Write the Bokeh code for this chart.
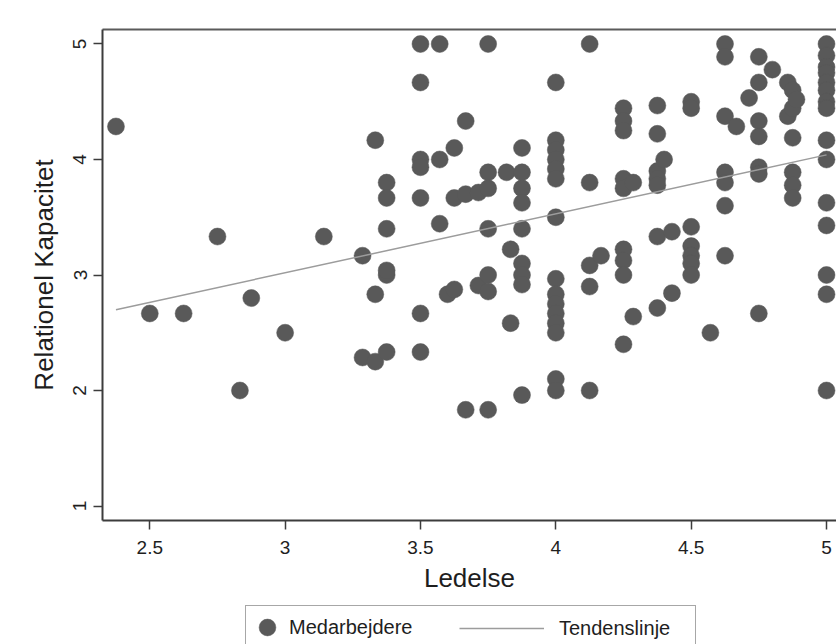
from bokeh.plotting import figure
from bokeh.layouts import column
from bokeh.models import Range1d, FixedTicker, LinearAxis, Legend, LegendItem, ColumnDataSource
from bokeh.embed import file_html
from bokeh.resources import INLINE

# ---------------- data ----------------
ledelse = [
    2.375, 2.5, 2.625, 2.75, 2.833, 2.875, 3.0, 3.143,
    3.286, 3.286,
    3.333, 3.333, 3.333,
    3.375, 3.375, 3.375, 3.375, 3.375, 3.375,
    3.5, 3.5, 3.5, 3.5, 3.5, 3.5, 3.5,
    3.571, 3.571, 3.571,
    3.6,
    3.625, 3.625, 3.625,
    3.667, 3.667, 3.667,
    3.714, 3.714,
    3.75, 3.75, 3.75, 3.75, 3.75, 3.75, 3.75,
    3.818,
    3.833, 3.833,
    3.875, 3.875, 3.875, 3.875, 3.875, 3.875, 3.875, 3.875, 3.875,
    4.0, 4.0, 4.0, 4.0, 4.0, 4.0, 4.0, 4.0, 4.0, 4.0, 4.0, 4.0, 4.0, 4.0, 4.0,
    4.125, 4.125, 4.125, 4.125, 4.125,
    4.167,
    4.25, 4.25, 4.25, 4.25, 4.25, 4.25, 4.25, 4.25, 4.25,
    4.286, 4.286,
    4.375, 4.375, 4.375, 4.375, 4.375, 4.375, 4.375,
    4.4,
    4.429, 4.429,
    4.5, 4.5, 4.5, 4.5, 4.5, 4.5, 4.5,
    4.571,
    4.625, 4.625, 4.625, 4.625, 4.625, 4.625, 4.625,
    4.667,
    4.714,
    4.75, 4.75, 4.75, 4.75, 4.75, 4.75, 4.75,
    4.8,
    4.857, 4.857,
    4.875, 4.875, 4.875, 4.875, 4.875, 4.875,
    4.889,
    5.0, 5.0, 5.0, 5.0, 5.0, 5.0, 5.0, 5.0, 5.0, 5.0, 5.0, 5.0, 5.0, 5.0, 5.0,
]
relationel_kapacitet = [
    4.286, 2.667, 2.667, 3.333, 2.0, 2.8, 2.5, 3.333,
    3.167, 2.286,
    4.167, 2.833, 2.25,
    3.8, 3.667, 3.4, 3.0, 3.04, 2.333,
    5.0, 4.667, 4.0, 3.933, 3.667, 2.667, 2.333,
    5.0, 4.0, 3.444,
    2.833,
    4.1, 3.667, 2.875,
    4.333, 3.7, 1.833,
    3.714, 2.909,
    5.0, 3.889, 3.75, 3.4, 3.0, 2.857, 1.833,
    3.889,
    3.222, 2.583,
    4.1, 3.889, 3.75, 3.625, 3.4, 3.1, 3.0, 2.917, 1.96,
    4.667, 4.167, 4.083, 4.0, 3.917, 3.833, 3.5, 2.967, 2.833, 2.75, 2.667, 2.583, 2.5, 2.1, 2.0,
    5.0, 3.8, 3.083, 2.9, 2.0,
    3.167,
    4.444, 4.333, 4.25, 3.833, 3.75, 3.222, 3.125, 3.0, 2.4,
    3.8, 2.64,
    4.467, 4.222, 3.9, 3.833, 3.778, 3.333, 2.714,
    4.0,
    3.375, 2.843,
    4.5, 4.444, 3.417, 3.25, 3.167, 3.1, 3.0,
    2.5,
    5.0, 4.889, 4.375, 3.889, 3.8, 3.6, 3.167,
    4.286,
    4.533,
    4.889, 4.667, 4.333, 4.2, 3.933, 3.875, 2.667,
    4.778,
    4.667, 4.375,
    4.6, 4.444, 4.188, 3.889, 3.778, 3.667,
    4.52,
    5.0, 4.9, 4.8, 4.75, 4.667, 4.6, 4.5, 4.444, 4.167, 4.0, 3.625, 3.429, 3.0, 2.833, 2.0,
]
trend_x = [2.375, 5.0]
trend_y = [2.70, 4.04]

x_ticks = [2.5, 3, 3.5, 4, 4.5, 5]
x_tick_labels = ["2.5", "3", "3.5", "4", "4.5", "5"]
y_ticks = [1, 2, 3, 4, 5]
y_tick_labels = ["1", "2", "3", "4", "5"]
series_labels = ["Medarbejdere", "Tendenslinje"]
x_title = "Ledelse"
y_title = "Relationel Kapacitet"

# ---------------- styling ----------------
FONT = "Liberation Sans"
DOT = "#595959"
AXIS = "#3c3c3c"
TEXT = "#1e1e1e"
TREND = "#9c9c9c"

p = figure(width=836, height=600, output_backend="svg", toolbar_location=None,
           x_range=Range1d(2.3253, 5.0369), y_range=Range1d(0.8745, 5.1255),
           min_border_left=102, min_border_right=0, min_border_top=29, min_border_bottom=80,
           background_fill_color="white", border_fill_color="white",
           outline_line_color=None)
p.grid.visible = False

src = ColumnDataSource(data=dict(x=ledelse, y=relationel_kapacitet))
dots = p.scatter("x", "y", source=src, size=17, fill_color=DOT, line_color=DOT, line_width=0.5)
trend = p.line(trend_x, trend_y, line_color=TREND, line_width=1.5)

xa = p.xaxis[0]
ya = p.yaxis[0]
xa.ticker = FixedTicker(ticks=x_ticks)
xa.major_label_overrides = {t: l for t, l in zip(x_ticks, x_tick_labels)}
ya.ticker = FixedTicker(ticks=y_ticks)
ya.major_label_overrides = {t: l for t, l in zip(y_ticks, y_tick_labels)}
ya.major_label_orientation = "parallel"
xa.axis_label = x_title
ya.axis_label = y_title
for ax in (xa, ya):
    ax.axis_line_width = 2
    ax.axis_line_color = AXIS
    ax.major_tick_line_color = AXIS
    ax.major_tick_line_width = 1.5
    ax.major_tick_in = 0
    ax.major_tick_out = 9
    ax.minor_tick_line_color = None
    ax.major_label_text_font = FONT
    ax.major_label_text_font_size = "19px"
    ax.major_label_text_color = TEXT
    ax.axis_label_text_font = FONT
    ax.axis_label_text_font_size = "26px"
    ax.axis_label_text_font_style = "normal"
    ax.axis_label_text_color = TEXT
xa.major_label_standoff = 11
xa.axis_label_standoff = 6
ya.major_label_standoff = 7
ya.axis_label_standoff = 12

top = LinearAxis(ticker=FixedTicker(ticks=[]), axis_line_width=2, axis_line_color="#5a5a5a",
                 major_tick_line_color=None, minor_tick_line_color=None)
p.add_layout(top, "above")

# ---------------- legend strip below the chart ----------------
# The strip's frame is aligned with the chart's frame (left edge at x=102).
lg = figure(width=836, height=44, output_backend="svg", toolbar_location=None,
            x_range=Range1d(0, 1), y_range=Range1d(0, 1),
            x_axis_type=None, y_axis_type=None,
            min_border_left=0, min_border_right=0, min_border_top=0, min_border_bottom=0,
            background_fill_color="white", border_fill_color="white",
            outline_line_color=None)
lg.grid.visible = False
# key renderers reuse the real data; it lies outside this strip's 0..1 ranges, so only the keys show
key_dot = lg.scatter(ledelse, relationel_kapacitet, size=17, fill_color=DOT, line_color=DOT, line_width=0.5)
key_line = lg.line(trend_x, trend_y, line_color=TREND, line_width=1.5)

leg_a = Legend(items=[LegendItem(label=series_labels[0], renderers=[key_dot])],
               orientation="horizontal", location=(143, -5),
               glyph_width=42, glyph_height=42, label_height=42, label_width=406,
               label_standoff=1, padding=0, spacing=0, margin=0,
               border_line_color="#505050", border_line_width=1.5,
               background_fill_color="white", background_fill_alpha=1.0,
               label_text_font=FONT, label_text_font_size="20px", label_text_color=TEXT)
leg_b = Legend(items=[LegendItem(label=series_labels[1], renderers=[key_line])],
               orientation="horizontal", location=(357, -5),
               glyph_width=85, glyph_height=42, label_height=42,
               label_standoff=15, padding=0, spacing=0, margin=0,
               border_line_alpha=0, background_fill_alpha=0,
               label_text_font=FONT, label_text_font_size="20px", label_text_color=TEXT)
lg.add_layout(leg_a)
lg.add_layout(leg_b)

layout = column(p, lg, spacing=0)
open("out.html", "w").write(file_html(layout, INLINE))
